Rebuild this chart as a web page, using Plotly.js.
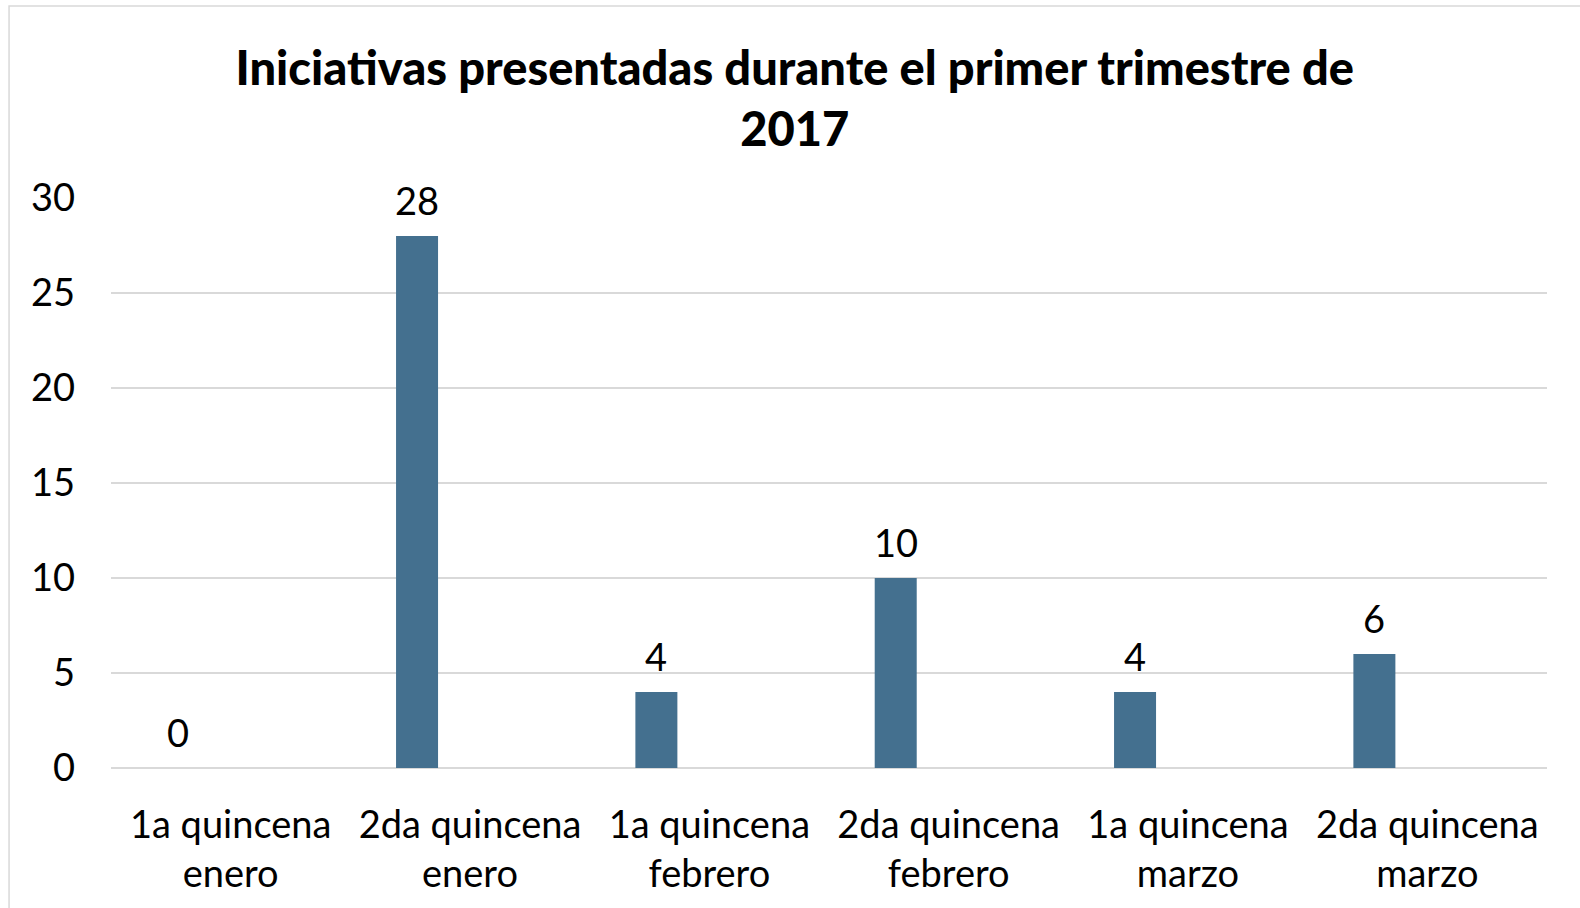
<!DOCTYPE html>
<html>
<head>
<meta charset="utf-8">
<script src="https://cdn.plot.ly/plotly-3.0.1.min.js"></script>
<style>html,body{margin:0;padding:0;background:#fff;}#chart{width:1580px;height:908px;}</style>
</head>
<body>
<div id="chart"></div>
<script>
const categories = ["1a quincena<br>enero", "2da quincena<br>enero", "1a quincena<br>febrero", "2da quincena<br>febrero", "1a quincena<br>marzo", "2da quincena<br>marzo"];
const values = [0, 28, 4, 10, 4, 6];
const yTicks = [0, 5, 10, 15, 20, 25, 30];
const titleText = "Iniciativas presentadas durante el primer trimestre de<br>2017";

const FONT = "Lato, 'Open Sans', sans-serif";
const BAR_WIDTH = 0.1755;
const BAR_OFFSET = -0.309;

const data = [{
  type: "bar",
  x: categories,
  y: values,
  width: BAR_WIDTH,
  offset: BAR_OFFSET,
  marker: {color: "#44708F"},
  hoverinfo: "x+y"
}];

// value labels above each bar (bar center is shifted left of the category center)
const labelAnnotations = categories.map((c, i) => ({
  x: c, y: values[i], xref: "x", yref: "y",
  text: String(values[i]), showarrow: false,
  xanchor: "center", yanchor: "middle",
  xshift: -53, yshift: 36,
  font: {family: FONT, size: 38, color: "#000"}
}));

const layout = {
  width: 1580, height: 908,
  margin: {l: 111, r: 33, t: 198, b: 140},
  paper_bgcolor: "#fff", plot_bgcolor: "#fff",
  showlegend: false,
  title: {
    text: titleText,
    font: {family: FONT, size: 47, color: "#000", weight: 900},
    x: 0.503, xref: "container", xanchor: "center",
    y: 0.906, yref: "container", yanchor: "middle"
  },
  xaxis: {
    type: "category",
    showgrid: false, zeroline: false, showline: false,
    ticks: "",
    tickfont: {family: FONT, size: 38, color: "#000"},
    ticklabelstandoff: 31,
    fixedrange: true
  },
  yaxis: {
    range: [0, 30],
    tickvals: yTicks,
    ticktext: yTicks.map(String),
    showgrid: true, gridcolor: "#d9d9d9", gridwidth: 1.5,
    zeroline: true, zerolinecolor: "#d9d9d9", zerolinewidth: 1.5,
    showline: false, ticks: "",
    tickfont: {family: FONT, size: 38, color: "#000"},
    ticklabelstandoff: 35,
    fixedrange: true
  },
  annotations: labelAnnotations,
  shapes: [{
    type: "rect", xref: "paper", yref: "paper",
    x0: -0.071, x1: 1.1, y0: -0.4, y1: 1.3368,
    line: {color: "#d9d9d9", width: 1.5}, fillcolor: "rgba(0,0,0,0)", layer: "below"
  }]
};

Plotly.newPlot("chart", data, layout, {displayModeBar: false, staticPlot: true});
</script>
</body>
</html>
